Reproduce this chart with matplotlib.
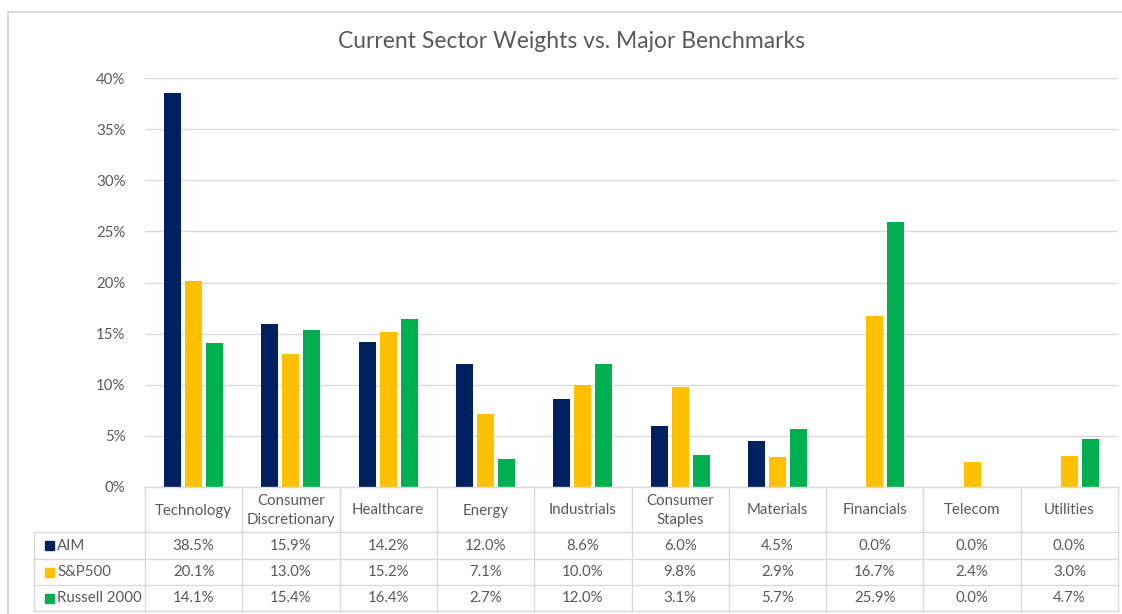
import matplotlib.pyplot as plt
import matplotlib.transforms as mtransforms
from matplotlib.patches import Rectangle
import numpy

plt.rcParams['font.family'] = ['Lato', 'DejaVu Sans']

# Data
sectors = ["Technology", "Consumer\nDiscretionary", "Healthcare", "Energy", "Industrials",
           "Consumer\nStaples", "Materials", "Financials", "Telecom", "Utilities"]
series_names = ["AIM", "S&P500", "Russell 2000"]
aim = [38.5, 15.9, 14.2, 12.0, 8.6, 6.0, 4.5, 0.0, 0.0, 0.0]
sp500 = [20.1, 13.0, 15.2, 7.1, 10.0, 9.8, 2.9, 16.7, 2.4, 3.0]
russell = [14.1, 15.4, 16.4, 2.7, 12.0, 3.1, 5.7, 25.9, 0.0, 4.7]
y_ticks = [0, 5, 10, 15, 20, 25, 30, 35, 40]

colors = ["#002060", "#FFC000", "#00B050"]
text_color = "#595959"
line_color = "#D9D9D9"

W, H = 1122, 614
fig = plt.figure(figsize=(W / 100, H / 100), dpi=100)

def fy(y):
    # pixel row (from top) -> figure fraction
    return 1 - y / H

def fx(x):
    return x / W

ax = fig.add_axes([fx(145), fy(487), fx(1118) - fx(145), fy(78) - fy(487)])

x = numpy.arange(len(sectors))
bar_w = 0.175
step = 0.216
for i, (vals, c) in enumerate(zip([aim, sp500, russell], colors)):
    ax.bar(x + (i - 1) * step, vals, width=bar_w, color=c, zorder=3)

ax.set_xlim(-0.5, len(sectors) - 0.5)
ax.set_ylim(0, 40)
ax.set_yticks(y_ticks)
ax.set_yticklabels([f"{t}%" for t in y_ticks], color=text_color, fontsize=10.8)
ax.set_xticks([])
ax.tick_params(axis='y', length=0, pad=14)
ax.grid(axis='y', color=line_color, linewidth=1, zorder=0)
for s in ax.spines.values():
    s.set_visible(False)

fig.text(fx(572), fy(42), "Current Sector Weights vs. Major Benchmarks", fontsize=16.5,
         color=text_color, ha='center', va='center')

# data table below the plot
trans = mtransforms.blended_transform_factory(ax.transData, fig.transFigure)
row_edges = [487, 532, 559, 585, 611]
left_px = 34

def hline(y, x0, x1):
    fig.add_artist(plt.Line2D([fx(x0), fx(x1)], [fy(y), fy(y)], color=line_color, lw=1,
                              transform=fig.transFigure))

def vline_data(xd, y0, y1):
    fig.add_artist(plt.Line2D([xd, xd], [fy(y0), fy(y1)], color=line_color, lw=1,
                              transform=trans, clip_on=False))

hline(row_edges[0], 145, 1118)
for y in row_edges[1:]:
    hline(y, left_px, 1118)
for k in range(len(sectors) + 1):
    vline_data(k - 0.5, row_edges[0], row_edges[-1])
fig.add_artist(plt.Line2D([fx(left_px), fx(left_px)], [fy(row_edges[1]), fy(row_edges[-1])],
                          color=line_color, lw=1, transform=fig.transFigure))

header_y = (row_edges[0] + row_edges[1]) / 2 + 1
for k, name in enumerate(sectors):
    fig.text(k, fy(header_y), name, transform=trans, ha='center', va='center',
             fontsize=10.8, color=text_color, linespacing=1.45)

for r, (name, vals, c) in enumerate(zip(series_names, [aim, sp500, russell], colors)):
    yc = (row_edges[r + 1] + row_edges[r + 2]) / 2
    fig.add_artist(Rectangle((fx(45), fy(yc + 4.5)), fx(9), 9 / H, color=c,
                             transform=fig.transFigure))
    fig.text(fx(57), fy(yc), name, ha='left', va='center', fontsize=10.8, color=text_color)
    for k, v in enumerate(vals):
        fig.text(k, fy(yc), f"{v:.1f}%", transform=trans, ha='center', va='center',
                 fontsize=10.8, color=text_color)

# chart border
fig.add_artist(plt.Line2D([fx(8), fx(W)], [fy(12), fy(12)], color=line_color, lw=1.5,
                          transform=fig.transFigure))
fig.add_artist(plt.Line2D([fx(8), fx(8)], [fy(12), fy(H)], color=line_color, lw=1.5,
                          transform=fig.transFigure))

fig.savefig("out.png", dpi=100)
